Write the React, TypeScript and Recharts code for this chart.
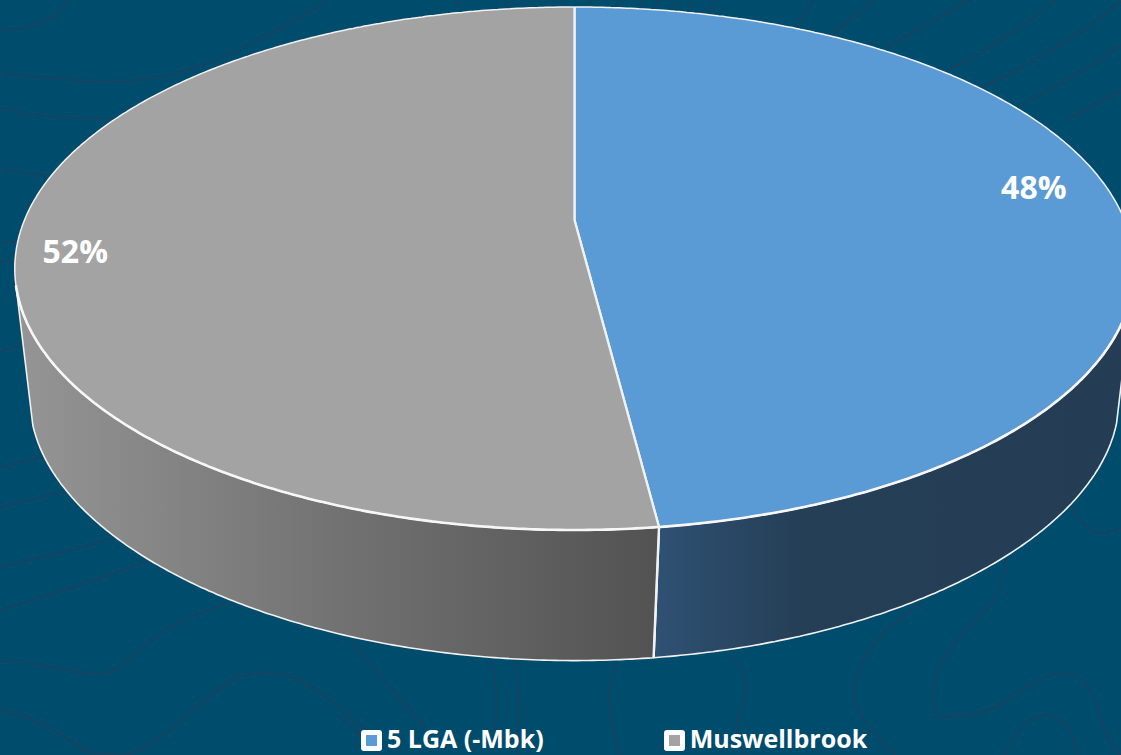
import { Legend, Pie, PieChart } from "recharts";

const WIDTH = 1121;
const HEIGHT = 755;

const categories = ["5 LGA (-Mbk)", "Muswellbrook"];
const shares = [48, 52];
const sliceColors = ["#5b9bd5", "#a3a3a3"];
const wallStops = [
  ["#2f5173", "#253f57", "#243d54"],
  ["#959595", "#727272", "#525252"],
];
// nudges the percent labels to where the original has them
const labelRadius = [0.845, 0.9];
const labelShift = [-20, 16];

const data = categories.map((name, i) => ({
  name,
  value: shares[i],
  fill: sliceColors[i],
}));

// faint map contours in the slide background
const contours = [
  "M0 31C35 28 62 18 67 0",
  "M0 72C60 82 130 84 165 76C200 70 260 40 300 18L325 2",
  "M0 109C40 116 80 120 112 119",
  "M0 168C20 172 35 175 48 176",
  "M0 243L16 241",
  "M0 262L16 259",
  "M0 352L24 343",
  "M0 467L44 457",
  "M0 507L70 490",
  "M0 567C50 556 90 545 118 537",
  "M0 610C60 592 110 575 150 560",
  "M230 603C190 615 160 630 140 650C120 670 110 675 90 673C60 672 30 660 0 660",
  "M0 711C30 712 60 735 90 752L120 755C150 755 190 710 230 680C260 670 280 670 300 680C320 690 350 715 365 730",
  "M350 640L430 735",
  "M340 715L380 755",
  "M492 660C498 680 498 720 492 750",
  "M515 660C519 680 521 720 518 755",
  "M617 662C608 680 608 700 612 725L620 755",
  "M730 655C745 670 748 680 745 695C738 715 735 730 740 745L745 755",
  "M922 602C890 625 858 650 854 690C852 715 880 740 895 755",
  "M1008 555C1005 575 1000 595 985 610C960 635 935 660 933 690C932 705 936 715 939 717C960 717 990 712 1000 705C1030 685 1045 673 1060 673C1085 673 1095 695 1100 715C1105 735 1115 750 1121 755",
  "M1005 755C1015 730 1030 716 1045 715C1065 717 1075 735 1077 755",
  "M1070 503C1080 525 1095 535 1105 533L1121 528",
  "M797 27L812 0",
  "M830 35L875 0",
  "M885 48L970 0",
  "M945 72C985 52 1020 30 1055 0",
  "M983 87C1040 60 1085 30 1121 2",
  "M1018 106C1060 85 1095 65 1121 45",
  "M1068 120L1121 90",
  "M458 8L456 0",
  "M507 6L508 0",
  "M565 6L564 0",
  "M593 6L590 0",
  "M620 7L618 0",
  "M640 8L642 0",
  "M655 9L658 0",
  "M675 11L678 0",
  "M690 12L692 0",
  "M705 13L718 0",
];

// perspective of the tilted disc
const CX = 574.5;
const APEX_Y = 220;
const TILT = 0.1855;
const HALF_W = 550;
const HALF_H = 252.5;

type Pt = { x: number; y: number };

function project(theta: number, r = 1): Pt {
  const rad = (theta * Math.PI) / 180;
  const u = r * Math.sin(rad);
  const v = r * Math.cos(rad);
  const w = 1 + TILT * v;
  return { x: CX + (HALF_W * u) / w, y: APEX_Y - (HALF_H * v) / w };
}

// lower rim of the disc, it narrows towards the viewer in the original
function toBase(p: Pt): Pt {
  const dy = Math.max(0, p.y - 270);
  const s = 0.972 - 0.00014 * dy;
  return { x: CX + s * (p.x - CX), y: 410 + 0.9637 * (p.y - 270) };
}

function wallFaces(theta: number) {
  const a = project(theta);
  const b = project(theta + 0.2);
  const g = toBase(a);
  const cross = (b.x - a.x) * (g.y - a.y) - (b.y - a.y) * (g.x - a.x);
  return cross < 0;
}

const fmt = (p: Pt) => `${p.x.toFixed(1)} ${p.y.toFixed(1)}`;
const line = (pts: Pt[]) => `M${pts.map(fmt).join("L")}`;

function Slice3D(props: any) {
  const { startAngle, endAngle, fill } = props;
  const from = 90 - startAngle;
  const to = 90 - endAngle;
  const thetas: number[] = [];
  const count = Math.ceil((to - from) * 2);
  for (let i = 0; i <= count; i++) thetas.push(from + ((to - from) * i) / count);

  const apex = { x: CX, y: APEX_Y };
  const rim = thetas.map((t) => project(t));
  const spokes = line([rim[0], apex, rim[rim.length - 1]]);

  const front = thetas.filter(wallFaces);
  const upper = front.map((t) => project(t));
  const lower = upper.map(toBase);
  const wall = `${line(upper.concat([...lower].reverse()))}Z`;
  const xs = upper.concat(lower).map((p) => p.x);

  const idx = sliceColors.indexOf(fill);
  const gradId = `wall-${idx}`;
  const stops = wallStops[idx];
  // the edge where the two walls meet at the front
  const seam = idx === 0 ? upper.length - 1 : 0;

  return (
    <g>
      <defs>
        <linearGradient
          id={gradId}
          gradientUnits="userSpaceOnUse"
          x1={Math.min(...xs)}
          x2={Math.max(...xs)}
          y1={0}
          y2={0}
        >
          <stop offset="0" stopColor={stops[0]} />
          <stop offset={idx === 0 ? "0.3" : "0.5"} stopColor={stops[1]} />
          <stop offset="1" stopColor={stops[2]} />
        </linearGradient>
      </defs>
      <path d={wall} fill={`url(#${gradId})`} stroke="#f2f2f2" strokeWidth={1.6} strokeLinejoin="round" />
      <path d={line([upper[seam], lower[seam]])} stroke="#f2f2f2" strokeWidth={2.4} fill="none" />
      <path d={`${line([apex, ...rim])}Z`} fill={fill} stroke="none" />
      <path d={line(rim)} fill="none" stroke="#f2f2f2" strokeWidth={1.5} />
      <path d={line(upper)} fill="none" stroke="#f7f7f7" strokeWidth={2.6} />
      <path d={spokes} fill="none" stroke="#f2f2f2" strokeWidth={2.3} strokeLinejoin="round" />
    </g>
  );
}

function PercentLabel(props: any) {
  const { index, midAngle, value } = props;
  const p = project(90 - midAngle, labelRadius[index]);
  return (
    <text
      x={p.x}
      y={p.y + labelShift[index]}
      fill="#ffffff"
      textAnchor="middle"
      dominantBaseline="central"
      fontFamily="'Open Sans', sans-serif"
      fontWeight={700}
      fontSize={32}
    >
      {value}%
    </text>
  );
}

function LegendRow({ payload }: any) {
  return (
    <div
      style={{
        display: "flex",
        paddingLeft: 361,
        gap: 120,
        alignItems: "center",
        fontFamily: "'Open Sans', sans-serif",
        fontWeight: 700,
        fontSize: 25,
        lineHeight: "28px",
        color: "#ffffff",
      }}
    >
      {(payload ?? []).map((entry: any) => (
        <div key={entry.value} style={{ display: "flex", alignItems: "center", gap: 5 }}>
          <span
            style={{
              boxSizing: "border-box",
              width: 21,
              height: 21,
              marginTop: 4,
              background: entry.color,
              border: "5px solid #ffffff",
              borderRadius: 3,
            }}
          />
          <span style={{ whiteSpace: "nowrap" }}>{entry.value}</span>
        </div>
      ))}
    </div>
  );
}

export default function App() {
  return (
    <div
      style={{
        position: "absolute",
        left: 0,
        top: 0,
        width: WIDTH,
        height: HEIGHT,
        background: "#004c6d",
        overflow: "hidden",
      }}
    >
      <svg width={WIDTH} height={HEIGHT} style={{ position: "absolute", left: 0, top: 0 }}>
        {contours.map((d) => (
          <path key={d} d={d} fill="none" stroke="#1a4260" strokeWidth={1.6} />
        ))}
      </svg>
      <div style={{ position: "absolute", left: 0, top: 0 }}>
        <PieChart width={WIDTH} height={HEIGHT} margin={{ top: 0, right: 0, bottom: 0, left: 0 }}>
          <Pie
            data={data}
            dataKey="value"
            nameKey="name"
            cx={CX}
            cy={APEX_Y}
            outerRadius={260}
            startAngle={90}
            endAngle={-270}
            stroke="none"
            shape={Slice3D}
            label={PercentLabel}
            labelLine={false}
            isAnimationActive={false}
          />
          <Legend
            content={LegendRow}
            wrapperStyle={{ position: "absolute", left: 0, top: 724, width: WIDTH }}
          />
        </PieChart>
      </div>
    </div>
  );
}
